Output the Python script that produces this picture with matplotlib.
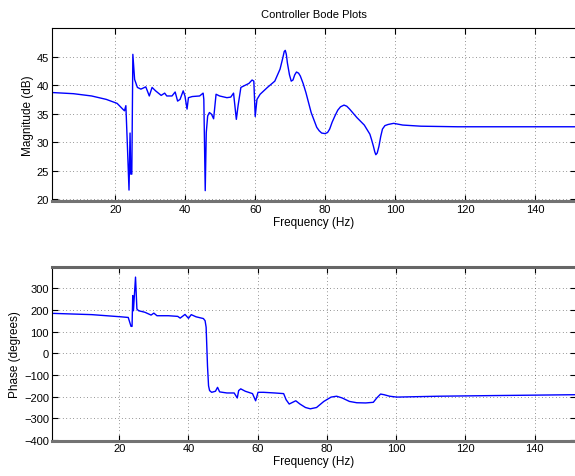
import matplotlib
matplotlib.use("Agg")
import matplotlib.pyplot as plt

plt.rcParams["font.family"] = ["Liberation Sans", "DejaVu Sans"]

# magnitude trace (Hz, dB)
mag_freq = [2.0, 8.0, 13.2, 17.4, 20.5, 22.1, 22.6, 23.0, 23.4, 23.9, 24.2, 24.4,
            24.7, 25.0, 25.5, 26.3, 27.3, 28.7, 29.7, 30.5, 31.5, 33.1, 34.1, 34.7,
            36.2, 37.1, 37.8, 38.5, 39.4, 39.9, 40.5, 40.9, 42.0, 44.1, 45.1, 45.3,
            45.7, 46.0, 46.4, 46.9, 47.5, 48.1, 48.8, 49.8, 51.9, 53.0, 53.8, 54.6,
            55.1, 55.9, 57.2, 58.2, 59.1, 59.6, 60.0, 60.5, 61.4, 63.5, 65.6, 67.1,
            67.9, 68.3, 68.6, 68.9, 69.2, 69.8, 70.3, 70.8, 71.3, 71.8, 72.4, 72.9,
            73.7, 74.5, 76.0, 77.6, 78.3, 79.0, 80.0, 80.7, 81.3, 82.0, 82.8, 83.6,
            84.4, 85.4, 86.2, 87.0, 89.1, 91.2, 92.8, 93.3, 93.8, 94.2, 94.5, 94.9,
            95.4, 95.9, 96.4, 97.1, 98.0, 99.6, 102.2, 107.4, 117.9, 133.6, 152.0]
mag_db = [38.7, 38.5, 38.1, 37.5, 36.8, 35.8, 35.5, 36.4, 30.0, 21.6, 31.6, 24.4,
          24.4, 45.4, 41.0, 39.6, 39.3, 39.7, 38.1, 39.6, 39.0, 38.2, 38.6, 38.1,
          38.1, 38.8, 37.2, 37.5, 39.0, 38.1, 35.8, 37.8, 38.0, 38.1, 38.6, 37.5,
          21.5, 31.7, 34.6, 35.2, 34.9, 34.1, 38.4, 38.1, 37.8, 37.9, 38.6, 34.0,
          36.4, 39.6, 40.0, 40.3, 40.9, 40.7, 34.5, 37.5, 38.4, 39.6, 40.7, 42.8,
          44.8, 45.9, 46.1, 45.4, 43.9, 41.8, 40.7, 40.9, 41.8, 42.3, 42.1, 41.6,
          40.3, 38.7, 35.2, 32.6, 32.0, 31.6, 31.5, 31.7, 32.3, 33.5, 34.6, 35.6,
          36.2, 36.5, 36.3, 35.8, 34.3, 33.0, 31.4, 30.4, 29.3, 28.3, 27.8, 28.1,
          29.3, 31.0, 32.3, 32.9, 33.1, 33.3, 33.0, 32.8, 32.7, 32.7, 32.7]

# phase trace (Hz, degrees)
ph_freq = [0.5, 12.1, 20.5, 22.6, 23.4, 23.7, 23.9, 24.1, 24.7, 25.1, 25.6, 27.4,
           29.2, 30.0, 30.9, 34.2, 36.9, 37.6, 39.0, 40.0, 40.8, 42.2, 44.3, 44.8,
           45.1, 45.5, 45.8, 46.1, 46.7, 47.8, 48.4, 49.0, 51.1, 53.2, 54.1, 54.5,
           55.1, 56.4, 58.5, 59.4, 60.1, 61.7, 64.9, 67.5, 68.2, 69.1, 70.1, 71.0,
           72.2, 73.8, 75.2, 77.0, 79.1, 81.2, 82.8, 84.4, 86.5, 88.6, 91.2, 93.4,
           94.4, 95.5, 96.5, 98.1, 100.2, 112.3, 128.2, 152.0]
ph_deg = [184, 178, 168, 165, 124, 124, 266, 196, 351, 204, 196, 189,
          176, 185, 173, 173, 170, 162, 179, 161, 178, 168, 160, 150,
          120, -60, -150, -172, -180, -175, -157, -178, -183, -183, -206, -172,
          -164, -175, -186, -219, -180, -180, -183, -186, -214, -234, -226, -219,
          -234, -250, -256, -250, -222, -202, -198, -206, -222, -228, -229, -226,
          -206, -188, -191, -198, -202, -198, -195, -191]

mag_ticks = [20, 25, 30, 35, 40, 45]
ph_ticks = [-400, -300, -200, -100, 0, 100, 200, 300]
freq_ticks = [20, 40, 60, 80, 100, 120, 140]


def style_axes(ax):
    ax.set_xticks(freq_ticks)
    ax.grid(True, color="0.2", linestyle=(0, (1, 4)), linewidth=0.5)
    ax.tick_params(direction="in", top=True, right=True, length=4,
                   width=0.8, labelsize=8, pad=2)
    for s in ax.spines.values():
        s.set_linewidth(0.8)
    ax.spines["bottom"].set_linewidth(2.2)
    ax.spines["bottom"].set_color("0.45")
    ax.set_xlabel("Frequency (Hz)", fontsize=8.5, labelpad=1)


fig = plt.figure(figsize=(5.75, 4.77), dpi=100)
ax1 = fig.add_axes([0.09, 0.5755, 0.912, 0.3635])
ax2 = fig.add_axes([0.09, 0.074, 0.912, 0.3648])

ax1.plot(mag_freq, mag_db, color="#0000ff", linewidth=1.0)
ax1.set_xlim(1.8, 151.8)
ax1.set_ylim(19.6, 50)
ax1.set_yticks(mag_ticks)
style_axes(ax1)
ax1.set_ylabel("Magnitude (dB)", fontsize=8.5, labelpad=2)
ax1.set_title("Controller Bode Plots", fontsize=8, pad=8)

ax2.plot(ph_freq, ph_deg, color="#0000ff", linewidth=1.0)
ax2.set_xlim(0.5, 152.0)
ax2.set_ylim(-403, 399)
ax2.set_yticks(ph_ticks)
style_axes(ax2)
ax2.spines["top"].set_linewidth(2.2)
ax2.spines["top"].set_color("0.4")
ax2.set_ylabel("Phase (degrees)", fontsize=8.5, labelpad=2)

fig.savefig("out.png", dpi=100)
